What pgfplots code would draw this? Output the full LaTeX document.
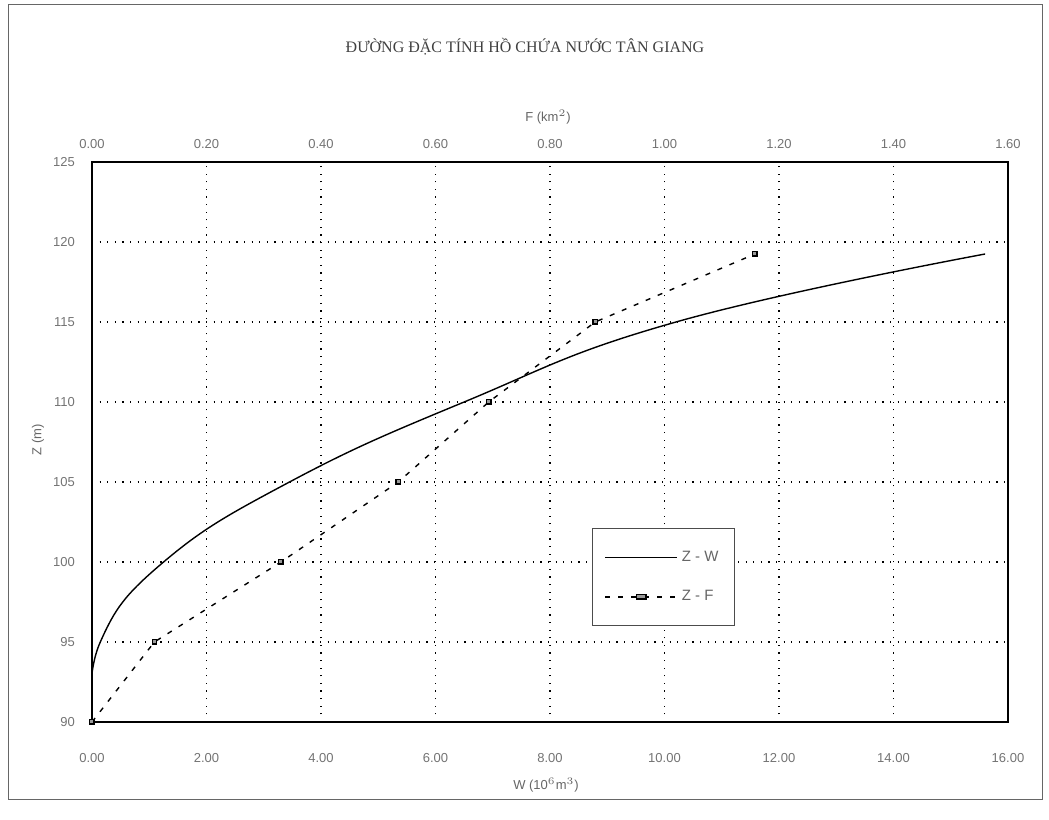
\documentclass[border=0pt]{standalone}
\usepackage{fontspec}
\setmainfont{Liberation Serif}
\newfontfamily\arial{Liberation Sans}
\usepackage{pgfplots}
\pgfplotsset{compat=1.18}

% Z (m) against W (10^6 m3) and F (km2)
\pgfplotstableread{
W      Z
0.00   90
0.145  95
1.25   100
3.45   105
6.50   110
10.20  115
15.60  119.25
}\zw
\pgfplotstableread{
F      Z
0.000  90
0.109  95
0.330  100
0.535  105
0.693  110
0.879  115
1.158  119.25
}\zf

\pgfplotsset{
  common/.style={
    scale only axis, width=458pt, height=280pt,
    at={(46pt,48.5pt)}, anchor=south west,
    ymin=90, ymax=125,
    major tick length=0pt,
    /pgf/number format/assume math mode=true,
    tick label style={font=\arial\fontsize{6.5}{7}\selectfont, text=black!55},
  },
  twodec/.style={/pgf/number format/fixed, /pgf/number format/fixed zerofill,
    /pgf/number format/precision=2},
}

\begin{document}
\begin{tikzpicture}[x=1pt,y=1pt]
\useasboundingbox (0,0) rectangle (524.5,409.5);
\draw[black!60, line width=0.5pt] (4,10) rectangle (521,407);

\begin{axis}[common,
    xmin=0, xmax=16,
    xtick={0,2,...,16},
    ytick={90,95,...,125},
    xticklabel style={twodec, yshift=-12pt},
    yticklabel style={xshift=-5pt},
    xmajorgrids, ymajorgrids,
    grid style={black, line width=0.6pt, dash pattern=on 0.6pt off 3.2pt},
    axis line style={black, line width=0.6pt},
    legend style={at={(0.546,0.346)}, anchor=north west,
      font=\arial\fontsize{7.5}{8}\selectfont, text=black!60,
      draw=black!70, line width=0.6pt, rounded corners=0pt,
      row sep=9pt, inner xsep=6pt, inner ysep=9pt},
    legend cell align=left,
    legend image post style={xscale=2.1},
]
\addplot[black, line width=0.7pt, smooth, tension=0.75, no marks] table[x=W, y=Z] {\zw};
\addlegendentry{Z - W}
\addlegendimage{black, line width=0.7pt, dash pattern=on 2.5pt off 4pt,
   mark=square*, mark size=1.1pt, mark options={solid, fill=black!40}}
\addlegendentry{Z - F}
\end{axis}

\begin{axis}[common,
    xmin=0, xmax=1.6,
    xtick={0,0.2,...,1.6},
    axis x line*=top,
    axis y line=none,
    clip=false,
    xticklabel style={twodec, yshift=3pt},
    axis line style={black, line width=0.6pt},
]
\addplot[black, line width=0.7pt, dash pattern=on 2.5pt off 4pt,
   mark=square*, mark size=1.1pt, mark options={solid, fill=black!40}]
   table[x=F, y=Z] {\zf};
\end{axis}

\node[font=\fontsize{8}{9}\selectfont, text=black!75] at (262.5,386) {ĐƯỜNG ĐẶC TÍNH HỒ CHỨA NƯỚC TÂN GIANG};
\node[font=\arial\fontsize{6.5}{7}\selectfont, text=black!60] at (274,351) {F (km$^{2}$)};
\node[font=\arial\fontsize{6.5}{7}\selectfont, text=black!60] at (273,17) {W (10$^{6}$m$^{3}$)};
\node[font=\arial\fontsize{6.5}{7}\selectfont, text=black!60, rotate=90] at (19,189.5) {Z (m)};
\end{tikzpicture}
\end{document}
